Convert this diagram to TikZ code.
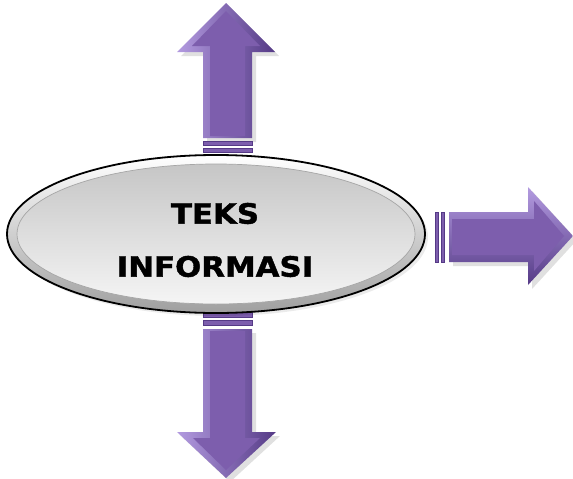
\documentclass[tikz,border=0pt]{standalone}
\usepackage{fontspec}
\newfontfamily\labelfont[FakeStretch=1.1,FakeBold=1.5]{DejaVu Sans Bold}
\usetikzlibrary{shapes.geometric}
\definecolor{pbase}{HTML}{7D5EAD}
\definecolor{plight}{HTML}{B39BE0}
\definecolor{pdark}{HTML}{553A86}
\tikzset{
  arrowouter/.style={left color=plight,right color=pdark,draw=none},
  arrowouterv/.style={top color=plight,bottom color=pdark,draw=none},
  arrowinner/.style={fill=pbase,draw=none},
  stripe/.style={fill=pbase,draw=pdark,line width=0.4pt},
  shadowfill/.style={fill=black,opacity=0.12,draw=none},
  ringstyle/.style={ellipse,draw=black,line width=1.8pt,top color=white,bottom color=gray!75,minimum width=418pt,minimum height=158pt,inner sep=0pt},
  innerstyle/.style={ellipse,draw=gray!70,line width=0.7pt,top color=gray!45,bottom color=gray!8,minimum width=398pt,minimum height=140pt,inner sep=0pt},
  labelstyle/.style={align=center,font=\labelfont\fontsize{28}{53}\selectfont,text=black}
}
\begin{document}
\begin{tikzpicture}[x=1pt,y=-1pt]
\useasboundingbox (0,0) rectangle (573,479);
% ---------- up arrow ----------
\fill[shadowfill] (207,142) -- (207,56) -- (181,56) -- (230,7) -- (279,56) -- (256,56) -- (256,142) -- cycle;
\path[arrowouter] (203,138) -- (203,52) -- (177,52) -- (226,3) -- (275,52) -- (252,52) -- (252,138) -- cycle;
\path[arrowinner] (210,136) -- (210,46) -- (192,46) -- (226,11) -- (260,46) -- (245,46) -- (245,136) -- cycle;
\path[stripe] (203,141) rectangle (252,145);
\path[stripe] (203,148) rectangle (252,152);
% ---------- down arrow ----------
\fill[shadowfill] (207,333) -- (207,436) -- (181,436) -- (230,482) -- (280,436) -- (256,436) -- (256,333) -- cycle;
\path[stripe] (203,311) rectangle (252,317);
\path[stripe] (203,320) rectangle (252,325);
\path[arrowouter] (203,329) -- (203,432) -- (177,432) -- (226,478) -- (276,432) -- (252,432) -- (252,329) -- cycle;
\path[arrowinner] (210,331) -- (210,438) -- (193,438) -- (226,470) -- (260,438) -- (245,438) -- (245,331) -- cycle;
% ---------- right arrow ----------
\fill[shadowfill] (453,216) -- (532,216) -- (532,191) -- (577,240) -- (532,289) -- (532,266) -- (453,266) -- cycle;
\path[stripe] (435,212) rectangle (438,262);
\path[stripe] (441,212) rectangle (444,262);
\path[arrowouterv] (449,212) -- (528,212) -- (528,187) -- (573,236) -- (528,285) -- (528,262) -- (449,262) -- cycle;
\path[arrowinner] (452,219) -- (534,219) -- (534,201) -- (564,236) -- (534,271) -- (534,255) -- (452,255) -- cycle;
% ---------- ellipse ----------
\fill[shadowfill,opacity=0.08] (219,237) ellipse [x radius=209pt, y radius=79pt];
\node[ringstyle] (info) at (216,234) {};
\node[innerstyle] (infoinner) at (info.center) {};
\node[labelstyle] (infotext) at (215,240) {TEKS\\INFORMASI};
\end{tikzpicture}
\end{document}
